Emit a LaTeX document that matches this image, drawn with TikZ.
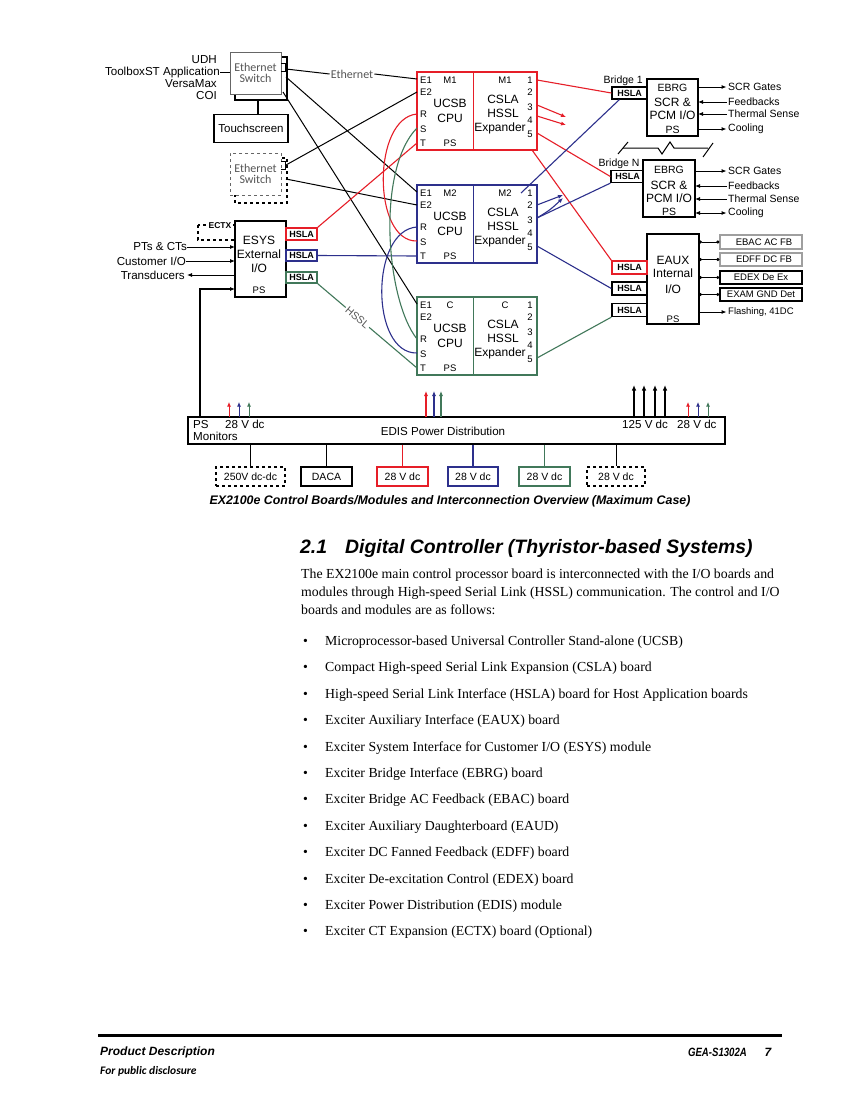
\documentclass[tikz,border=0pt]{standalone}
\usepackage{fontspec}
\setmainfont{Liberation Serif}
\setsansfont{Liberation Sans}
\newfontfamily\calib{Carlito}
\usetikzlibrary{arrows.meta}
\definecolor{myred}{RGB}{230,30,40}
\definecolor{myblue}{RGB}{45,48,140}
\definecolor{mygreen}{RGB}{65,120,90}
\definecolor{txtgray}{RGB}{85,85,85}
\newcommand\cpublock[4]{%
  \node[draw=#3, line width=1.8pt, minimum width=120pt, minimum height=78pt, inner sep=0pt] (#1) at (477,#2+39) {};
  \draw[#3, line width=1pt] (473,#2) -- (473,#2+78);
  \node[sml, anchor=west] (#1tE1) at (420,#2+8) {E1};
  \node[sml, anchor=west] (#1tE2) at (420,#2+20) {E2};
  \node[sml, anchor=west] (#1tR) at (420,#2+42) {R};
  \node[sml, anchor=west] (#1tS) at (420,#2+57) {S};
  \node[sml, anchor=west] (#1tT) at (420,#2+71) {T};
  \node[sml] (#1tA) at (450,#2+8) {#4};
  \node[big] (#1tU) at (450,#2+31) {UCSB};
  \node[big] (#1tC) at (450,#2+46) {CPU};
  \node[sml] (#1tP) at (450,#2+71) {PS};
  \node[sml] (#1tB) at (505,#2+8) {#4};
  \node[big] (#1tX) at (503,#2+27) {CSLA};
  \node[big] (#1tH) at (503,#2+41) {HSSL};
  \node[big] (#1tY) at (500,#2+56) {Expander};
  \node[sml] (#1n1) at (530,#2+8) {1};
  \node[sml] (#1n2) at (530,#2+20) {2};
  \node[sml] (#1n3) at (530,#2+35) {3};
  \node[sml] (#1n4) at (530,#2+48) {4};
  \node[sml] (#1n5) at (530,#2+62) {5};
  \coordinate (#1E1) at (417,#2+7);
  \coordinate (#1E2) at (417,#2+20);
  \coordinate (#1R) at (417,#2+42);
  \coordinate (#1S) at (417,#2+56);
  \coordinate (#1T) at (417,#2+71);
  \coordinate (#1o1) at (537,#2+8);
  \coordinate (#1o2) at (537,#2+20);
  \coordinate (#1o3) at (537,#2+33);
  \coordinate (#1o4) at (537,#2+44);
  \coordinate (#1o5) at (537,#2+61);
}
\begin{document}
\begin{tikzpicture}[x=1pt,y=-1pt,
  lbl/.style={font=\sffamily\fontsize{10.5}{12}\selectfont, inner sep=0pt},
  lblb/.style={font=\sffamily\fontsize{11.6}{13}\selectfont, inner sep=0pt},
  sml/.style={font=\sffamily\fontsize{9.5}{10}\selectfont, inner sep=0pt},
  big/.style={font=\sffamily\fontsize{12}{13}\selectfont, inner sep=0pt},
  hsla/.style={draw, line width=1.3pt, inner sep=0pt, font=\sffamily\bfseries\fontsize{9}{10}\selectfont},
  blk/.style={draw, line width=1.3pt, inner sep=0pt, fill=white},
  swtxt/.style={font=\calib\fontsize{12}{13}\selectfont, text=txtgray, align=center},
  tip/.style={-{Latex[length=5pt,width=4.2pt]}},
  conn/.style={line width=1pt},
  dotl/.style={line width=0.9pt, {Circle[length=3pt]}-{Circle[length=3pt]}},
  bodytxt/.style={font=\fontsize{13.8}{16}\selectfont, inner sep=0pt, anchor=base west},
]
\fill[white] (0,0) rectangle (850,1100);
\useasboundingbox (0,0) rectangle (850,1100);

% ---------- Ethernet switches ----------
\draw[line width=1.3pt] (235,57) rectangle (287,100);
\node[draw=gray!80!black, fill=white, line width=1pt, minimum width=51pt, minimum height=42pt, inner sep=0pt, swtxt] (sw1) at (255.5,73) {Ethernet\\[-2pt]Switch};
\draw[line width=1pt] (281,63) -- (285,63) -- (285,71) -- (281,71);
\coordinate (sw1p1) at (286,69);
\coordinate (sw1p2) at (286,77);
\coordinate (sw1p3) at (283,92);
\coordinate (sw1b) at (258,100);
\node[blk, minimum width=74pt, minimum height=28pt, font=\sffamily\fontsize{11.5}{13}\selectfont, line width=1.6pt] (ts) at (251,128.5) {Touchscreen};
\draw[line width=1.3pt] (sw1b) -- (sw1b |- ts.north);

\node[lblb, anchor=east] (udh) at (217,60) {UDH};
\node[lblb, anchor=east] (tbx) at (220,72) {ToolboxST Application};
\node[lblb, anchor=east] (vmx) at (217,84) {VersaMax};
\node[lblb, anchor=east] (coi) at (217,96) {COI};
\coordinate (sw1w) at (230,72);
\draw[conn] (tbx.east) -- (sw1w);

\draw[dashed, line width=1.6pt] (235,158) rectangle (287,203);
\node[draw=gray!80!black, dashed, fill=white, line width=1pt, minimum width=51pt, minimum height=42pt, inner sep=0pt, swtxt] (sw2) at (255.5,174) {Ethernet\\[-2pt]Switch};
\draw[line width=1pt] (281,161) -- (285,161) -- (285,169) -- (281,169);
\coordinate (sw2p1) at (286,165);
\coordinate (sw2p2) at (286,179);

% ---------- CPU blocks ----------
\cpublock{m1}{72}{myred}{M1}
\cpublock{m2}{185}{myblue}{M2}
\cpublock{cc}{297}{mygreen}{C}

% Ethernet connections
\node[swtxt, inner sep=1pt] (ethl) at (352,74) {Ethernet};
\draw[conn] (sw1p1) -- (ethl.west);
\draw[conn] (ethl.east) -- (m1E1);
\draw[conn] (sw1p2) -- (m2E1);
\draw[conn] (sw1p3) -- (ccE1);
\draw[conn] (sw2p1) -- (m1E2);
\draw[conn] (sw2p2) -- (m2E2);

% ---------- ESYS ----------
\node[blk, minimum width=51pt, minimum height=76pt] (esys) at (260.5,259) {};
\node[big] (esys1) at (259,240) {ESYS};
\node[big] (esys2) at (259,254) {External};
\node[big] (esys3) at (259,268) {I/O};
\node[sml] (esys4) at (259,290) {PS};
\node[hsla, draw=myred, minimum width=31pt, minimum height=12pt] (esh1) at (301.5,234) {HSLA};
\node[hsla, draw=myblue, minimum width=31pt, minimum height=11pt] (esh2) at (301.5,255.5) {HSLA};
\node[hsla, draw=mygreen, minimum width=31pt, minimum height=11pt] (esh3) at (301.5,277.5) {HSLA};
\draw[dashed, line width=1.4pt] (198,225) rectangle (235,240);
\node[font=\sffamily\bfseries\fontsize{8.5}{9}\selectfont, inner sep=0.5pt, fill=white] (ectx) at (220,226) {ECTX};

\node[lblb, anchor=east] (pts) at (187,247) {PTs \& CTs};
\node[lblb, anchor=east] (cio) at (186,261) {Customer I/O};
\node[lblb, anchor=east] (trd) at (185,275) {Transducers};
\coordinate (esw1) at (235,247);
\coordinate (esw2) at (235,261);
\coordinate (esw3) at (235,275);
\coordinate (esw4) at (235,289);
\draw[conn, tip] (pts.east) -- (esw1);
\draw[conn, tip] (cio.east) -- (esw2);
\draw[conn, tip] (esw3) -- ([xshift=2pt]trd.east);

% ---------- Bridges ----------
\node[hsla, minimum width=35pt, minimum height=12pt] (b1h) at (629.5,93) {HSLA};
\node[lbl, anchor=south west, fill=white, inner sep=0.5pt] (b1l) at (603,86) {Bridge 1};
\node[blk, minimum width=51pt, minimum height=57pt] (ebrg1) at (672.5,107.5) {};
\node[lbl] (e1t1) at (672.5,88) {EBRG};
\node[big] (e1t2) at (672.5,102) {SCR \&};
\node[big] (e1t3) at (672.5,115) {PCM I/O};
\node[lbl] (e1t4) at (672.5,130) {PS};

\node[hsla, minimum width=33pt, minimum height=12pt] (bnh) at (627.5,176.5) {HSLA};
\node[lbl, anchor=south west, fill=white, inner sep=0.5pt] (bnl) at (598,169) {Bridge N};
\node[blk, minimum width=52pt, minimum height=57pt] (ebrg2) at (669,188.5) {};
\node[lbl] (e2t1) at (669,170) {EBRG};
\node[big] (e2t2) at (669,185) {SCR \&};
\node[big] (e2t3) at (669,198) {PCM I/O};
\node[lbl] (e2t4) at (669,212) {PS};

% EBRG outputs
\node[lbl, anchor=west] (g1) at (728,87) {SCR Gates};
\node[lbl, anchor=west] (f1) at (728,102) {Feedbacks};
\node[lbl, anchor=west] (t1) at (728,114) {Thermal Sense};
\node[lbl, anchor=west] (c1) at (728,129) {Cooling};
\coordinate (g1a) at (698,87);
\coordinate (f1a) at (698,102);
\coordinate (t1a) at (698,114);
\coordinate (c1a) at (698,129);
\draw[conn, tip] (g1a) -- ([xshift=-1.5pt]g1.west);
\draw[conn, tip] ([xshift=-1.5pt]f1.west) -- (f1a);
\draw[conn, tip] ([xshift=-1.5pt]t1.west) -- (t1a);
\draw[conn, tip] (c1a) -- ([xshift=-1.5pt]c1.west);

\node[lbl, anchor=west] (g2) at (728,171) {SCR Gates};
\node[lbl, anchor=west] (f2) at (728,186) {Feedbacks};
\node[lbl, anchor=west] (t2) at (728,199) {Thermal Sense};
\node[lbl, anchor=west] (c2) at (728,213) {Cooling};
\coordinate (g2a) at (695,171);
\coordinate (f2a) at (695,186);
\coordinate (t2a) at (695,199);
\coordinate (c2a) at (695,213);
\draw[conn, tip] (g2a) -- ([xshift=-1.5pt]g2.west);
\draw[conn, tip] ([xshift=-1.5pt]f2.west) -- (f2a);
\draw[conn, tip] ([xshift=-1.5pt]t2.west) -- (t2a);
\draw[conn, {Latex[length=5pt,width=4.2pt]}-{Latex[length=5pt,width=4.2pt]}] (c2a) -- ([xshift=-1.5pt]c2.west);

% break line between bridges
\draw[conn] (618,154) -- (628,142);
\draw[conn] (623,148) -- (658,148) -- (662,154) -- (670,142) -- (674,148) -- (708,148);
\draw[conn] (703,157) -- (713,143);

% ---------- EAUX ----------
\node[blk, minimum width=52pt, minimum height=90pt] (eaux) at (673,279) {};
\node[big] (ea1) at (673,260) {EAUX};
\node[big] (ea2) at (673,273) {Internal};
\node[big] (ea3) at (673,289) {I/O};
\node[sml] (ea4) at (673,319) {PS};
\node[hsla, draw=myred, minimum width=35pt, minimum height=13pt] (eh1) at (629.5,267.5) {HSLA};
\node[hsla, minimum width=35pt, minimum height=13pt] (eh2) at (629.5,288.5) {HSLA};
\node[hsla, minimum width=35pt, minimum height=13pt] (eh3) at (629.5,310) {HSLA};

\node[draw=gray!75, line width=1.3pt, minimum width=82pt, minimum height=14pt, inner sep=0pt, sml] (ebac) at (761,242) {\hspace*{6pt}EBAC AC FB};
\node[draw=gray!75, line width=1.3pt, minimum width=82pt, minimum height=13pt, inner sep=0pt, sml] (edff) at (761,259.5) {\hspace*{6pt}EDFF DC FB};
\node[draw, line width=1.4pt, minimum width=82pt, minimum height=13pt, inner sep=0pt, sml] (edex) at (761,277.5) {EDEX De Ex};
\node[draw, line width=1.4pt, minimum width=82pt, minimum height=13pt, inner sep=0pt, sml] (exam) at (761,294.5) {EXAM GND Det};
\coordinate (ea1r) at (699,242);
\coordinate (ea2r) at (699,259.5);
\coordinate (ea3r) at (699,277.5);
\coordinate (ea4r) at (699,294.5);
\coordinate (ea5r) at (699,312);
\draw[dotl] (ea1r) -- (ebac.west);
\draw[dotl] (ea2r) -- (edff.west);
\draw[dotl] (ea3r) -- (edex.west);
\draw[dotl] (ea4r) -- (exam.west);
\node[sml, anchor=west] (fla) at (728,312) {Flashing, 41DC};
\draw[conn, tip] (ea5r) -- ([xshift=-1.5pt]fla.west);

% ---------- Red connections ----------
\begin{scope}[myred, line width=1.1pt]
\draw (m1o1) -- (b1h.west);
\draw[tip] (m1o3) -- (566,117);
\draw[tip] (m1o4) -- (566,125);
\draw (m1o5) -- (bnh.west);
\coordinate (m1bot) at (532,150);
\draw (m1bot) -- (eh1.north west);
\draw (esh1.north east) -- (m1T);
\draw (m1R) .. controls (372,118) and (372,242) .. (m2S);
\end{scope}

% ---------- Blue connections ----------
\begin{scope}[myblue, line width=1.1pt]
\draw (esh2.east) -- (m2T);
\draw (m2R) .. controls (370,230) and (370,354) .. (ccS);
\coordinate (m2in) at (521,193);
\draw (m2in) -- ([xshift=8pt]b1h.south west);
\draw[tip] (m2o2) -- (563,195);
\draw[tip] (m2o3) .. controls (550,210) .. (563,198);
\draw (m2o3) -- (bnh.south west);
\draw (m2o5) -- (eh2.west);
\end{scope}

% ---------- Green connections ----------
\begin{scope}[mygreen, line width=1.1pt]
\draw (m1S) .. controls (376,170) and (386,300) .. (ccR);
\draw (esh3.south east) -- node[pos=0.4, sloped, fill=white, inner sep=1.5pt, font=\sffamily\fontsize{10.5}{12}\selectfont, text=txtgray] (hssl) {HSSL} (ccT);
\draw (cco5) -- (eh3.south west);
\end{scope}

% ---------- EDIS ----------
\node[draw, line width=1.3pt, minimum width=537pt, minimum height=27pt, inner sep=0pt] (edis) at (456.5,430.5) {};
\node[lblb, anchor=west] (ps) at (193,424.5) {PS};
\node[lblb, anchor=west] (mon) at (193,436.5) {Monitors};
\node[lblb, anchor=west] (v28a) at (225,424.5) {28 V dc};
\node[lblb] (edt) at (443,431) {EDIS Power Distribution};
\node[lblb, anchor=west] (v125) at (622,424.5) {125 V dc};
\node[lblb, anchor=west] (v28b) at (677,424.5) {28 V dc};

\coordinate (psl) at (200,417);
\coordinate (psc) at (200,289);
\draw[line width=1.5pt, tip] (psl) -- (psc) -- (esw4);

\foreach \x/\c/\t in {229/myred/1, 239/myblue/2, 249/mygreen/3, 688/myred/4, 698/myblue/5, 708/mygreen/6}
  \draw[\c, line width=0.9pt, -{Latex[length=4.5pt,width=4pt]}] (\x,417) -- (\x,402);
\foreach \x/\c in {426/myred, 434/myblue, 441/mygreen}
  \draw[\c, line width=1.3pt, -{Latex[length=5pt,width=4.2pt]}] (\x,417) -- (\x,391);
\foreach \x in {634,644,655,665}
  \draw[line width=1.2pt, -{Latex[length=5.5pt,width=4.5pt]}] (\x,418) -- (\x,385);

% bottom power boxes
\node[draw, dashed, line width=2pt, minimum width=69pt, minimum height=19pt, inner sep=0pt, lbl] (pw1) at (250.5,476.5) {250V dc-dc};
\node[draw, line width=1.4pt, minimum width=51pt, minimum height=19pt, inner sep=0pt, lbl] (pw2) at (326.5,476.5) {DACA};
\node[draw=myred, line width=1.6pt, minimum width=51pt, minimum height=19pt, inner sep=0pt, lbl] (pw3) at (402.5,476.5) {28 V dc};
\node[draw=myblue, line width=1.6pt, minimum width=50pt, minimum height=19pt, inner sep=0pt, lbl] (pw4) at (473,476.5) {28 V dc};
\node[draw=mygreen, line width=1.6pt, minimum width=51pt, minimum height=19pt, inner sep=0pt, lbl] (pw5) at (544.5,476.5) {28 V dc};
\node[draw, dashed, line width=2pt, minimum width=58pt, minimum height=19pt, inner sep=0pt, lbl] (pw6) at (616,476.5) {28 V dc};
\draw[line width=1.5pt] (pw1.north |- edis.south) -- (pw1.north);
\draw[line width=1pt] (pw2.north |- edis.south) -- (pw2.north);
\draw[myred, line width=1.2pt] (pw3.north |- edis.south) -- (pw3.north);
\draw[myblue, line width=1.2pt] (pw4.north |- edis.south) -- (pw4.north);
\draw[mygreen, line width=1.2pt] (pw5.north |- edis.south) -- (pw5.north);
\draw[line width=1pt] (pw6.north |- edis.south) -- (pw6.north);

\node[font=\sffamily\bfseries\itshape\fontsize{12.4}{14}\selectfont, inner sep=0pt] (cap) at (450,501) {EX2100e Control Boards/Modules and Interconnection Overview (Maximum Case)};

% ---------- Text ----------
\node[font=\sffamily\bfseries\itshape\fontsize{19.4}{22}\selectfont, inner sep=0pt, anchor=base west] (h1) at (300,553) {2.1};
\node[font=\sffamily\bfseries\itshape\fontsize{19.4}{22}\selectfont, inner sep=0pt, anchor=base west] (h2) at (345,553) {Digital Controller (Thyristor-based Systems)};

\node[bodytxt] (p1) at (301,578.5) {The EX2100e main control processor board is interconnected with the I/O boards and};
\node[bodytxt] (p2) at (301,596.5) {modules through High-speed Serial Link (HSSL) communication. The control and I/O};
\node[bodytxt] (p3) at (301,614.5) {boards and modules are as follows:};

\foreach \yy/\tt [count=\i] in {
 645.5/{Microprocessor-based Universal Controller Stand-alone (UCSB)},
 671.9/{Compact High-speed Serial Link Expansion (CSLA) board},
 698.3/{High-speed Serial Link Interface (HSLA) board for Host Application boards},
 724.7/{Exciter Auxiliary Interface (EAUX) board},
 751.1/{Exciter System Interface for Customer I/O (ESYS) module},
 777.5/{Exciter Bridge Interface (EBRG) board},
 803.9/{Exciter Bridge AC Feedback (EBAC) board},
 830.3/{Exciter Auxiliary Daughterboard (EAUD)},
 856.7/{Exciter DC Fanned Feedback (EDFF) board},
 883.1/{Exciter De-excitation Control (EDEX) board},
 909.5/{Exciter Power Distribution (EDIS) module},
 935.9/{Exciter CT Expansion (ECTX) board (Optional)}} {
  \node[bodytxt] (bul\i) at (303,\yy) {\textbullet};
  \node[bodytxt] (item\i) at (325,\yy) {\tt};
}

% ---------- Footer ----------
\coordinate (rl) at (98,1035);
\coordinate (rr) at (782,1035);
\draw[line width=3pt] (rl) -- (rr);
\node[font=\sffamily\bfseries\itshape\fontsize{12}{13}\selectfont, inner sep=0pt, anchor=west] (fpd) at (100,1052) {Product Description};
\node[font=\sffamily\bfseries\itshape\fontsize{12}{13}\selectfont, inner sep=0pt, anchor=east] (fgea) at (747,1052) {\scalebox{0.8}[1]{GEA-S1302A}};
\node[font=\sffamily\bfseries\itshape\fontsize{12}{13}\selectfont, inner sep=0pt] (fpg) at (768,1052) {7};
\node[font=\calib\bfseries\itshape\fontsize{11.5}{12}\selectfont, inner sep=0pt, anchor=west] (fpub) at (100,1071) {For public disclosure};
\end{tikzpicture}
\end{document}
